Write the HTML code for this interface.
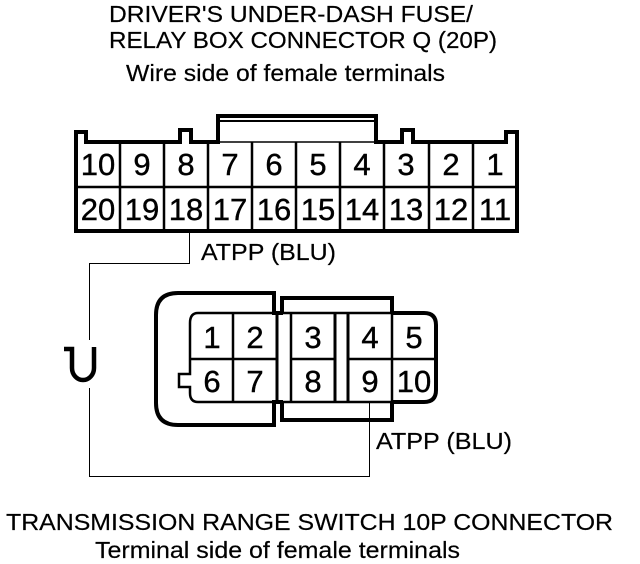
<!DOCTYPE html>
<html><head><meta charset="utf-8"><style>
html,body{margin:0;padding:0;background:#fff}
svg{display:block}
text{font-family:"Liberation Sans",sans-serif;fill:#000}
</style></head><body>
<svg width="640" height="564" viewBox="0 0 640 564" xmlns="http://www.w3.org/2000/svg">
<rect width="640" height="564" fill="#fff"/>
<g font-size="23.500" stroke="#000" stroke-width="0.200">
<text x="109" y="22" textLength="364" lengthAdjust="spacingAndGlyphs">DRIVER'S UNDER-DASH FUSE/</text>
<text x="109" y="48" textLength="388" lengthAdjust="spacingAndGlyphs">RELAY BOX CONNECTOR Q (20P)</text>
<text x="126" y="81" textLength="319" lengthAdjust="spacingAndGlyphs">Wire side of female terminals</text>
<text x="201" y="260" textLength="135" lengthAdjust="spacingAndGlyphs">ATPP (BLU)</text>
<text x="376" y="449" textLength="136" lengthAdjust="spacingAndGlyphs">ATPP (BLU)</text>
<text x="6" y="530" textLength="607" lengthAdjust="spacingAndGlyphs">TRANSMISSION RANGE SWITCH 10P CONNECTOR</text>
<text x="95" y="558" textLength="365" lengthAdjust="spacingAndGlyphs">Terminal side of female terminals</text>
</g>
<!-- upper connector -->
<g fill="none" stroke="#000">
<path stroke-width="4" d="M76 231V132H86V142H180V130H191V142H218V116H376V142H402V130H413V142H506V132H517V231Z"/>
<path stroke-width="2" d="M218 121H376"/>
<path stroke-width="2.500" d="M76 187H517M120 142V231M164 142V231M208 142V231M252 142V231M296 142V231M340 142V231M384 142V231M429 142V231M473 142V231"/>
<path stroke-width="1.500" d="M218 142H376"/>
</g>
<g font-size="31" text-anchor="middle" stroke="#000" stroke-width="0.400">
<text x="98" y="175">10</text><text x="142" y="175">9</text><text x="186" y="175">8</text><text x="230" y="175">7</text><text x="274" y="175">6</text><text x="318" y="175">5</text><text x="362" y="175">4</text><text x="406" y="175">3</text><text x="451" y="175">2</text><text x="495" y="175">1</text>
<text x="98" y="220">20</text><text x="142" y="220">19</text><text x="186" y="220">18</text><text x="230" y="220">17</text><text x="274" y="220">16</text><text x="318" y="220">15</text><text x="362" y="220">14</text><text x="406" y="220">13</text><text x="451" y="220">12</text><text x="495" y="220">11</text>
</g>
<!-- wire -->
<g fill="none" stroke="#000" stroke-width="1" shape-rendering="crispEdges">
<path d="M189.500 232V263.500H89.500V340M89.500 388V476.500H369.500V402"/>
</g>
<path d="M64 349H72V368A11 12 0 0 0 94 368V347" fill="none" stroke="#000" stroke-width="4.500"/>
<!-- lower connector -->
<g fill="none" stroke="#000">
<path stroke-width="4" d="M274 313V293H178Q156 293 156 315V403Q156 425 178 425H274V402"/>
<path stroke-width="4" d="M282 313V298H392V313M282 402V420H392V402"/>
<path stroke-width="4" d="M392 313H424Q436 313 436 325V390Q436 402 424 402H392"/>
<path stroke-width="2.500" d="M198 313H392M198 402H392M198 313Q190 313 190 323V374H179V387H190V393Q190 402 198 402"/>
<path stroke-width="2.500" d="M190 359H277M292 359H335M348 359H436M233 313V402M291 313V402M392 313V402"/>
<path stroke-width="3" d="M277 313V402M335 313V402M348 313V402"/>
<path stroke-width="4" d="M272 313H283M272 402H283"/>
</g>
<g font-size="31" text-anchor="middle" stroke="#000" stroke-width="0.400">
<text x="212" y="348">1</text><text x="255" y="348">2</text><text x="313" y="348">3</text><text x="370" y="348">4</text><text x="414" y="348">5</text>
<text x="212" y="392">6</text><text x="255" y="392">7</text><text x="313" y="392">8</text><text x="370" y="392">9</text><text x="414" y="392">10</text>
</g>
</svg>
</body></html>
